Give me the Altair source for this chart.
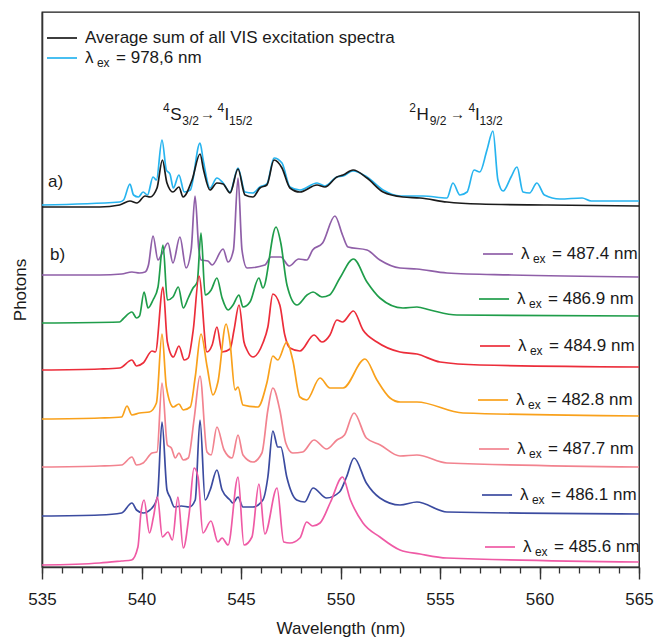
import altair as alt
import pandas as pd

FONT = "Liberation Sans"
INK = "#1a1a1a"

# ---------------- spectra (wavelength nm, photons arb. units, stacked) -------------
cyan_wl = [535.0, 538.9, 539.1, 539.42, 539.6, 539.85, 540.08, 540.3, 540.58, 540.75,
           541.03, 541.25, 541.43, 541.6, 541.88, 542.15, 542.45, 542.94, 543.1, 543.44,
           543.79, 544.1, 544.45, 544.85, 545.2, 545.6, 545.95, 546.3, 546.66, 547.06,
           547.46, 547.96, 548.82, 549.22, 549.82, 550.13, 550.63, 551.33, 552.14, 553.0,
           554.15, 555.35, 555.65, 556.0, 556.36, 556.71, 557.0, 557.36, 557.66, 557.91,
           558.17, 558.57, 558.87, 559.17, 559.5, 559.87, 560.25, 561.03, 562.14, 562.6, 565.0]
cyan_y = [362, 365, 367, 383, 372, 370, 375, 372, 390, 387,
          427, 397, 393, 379, 392, 375, 377, 424, 407, 379,
          389, 384, 375, 399, 375, 374, 380, 383, 409, 404,
          380, 377, 384, 381, 390, 391, 396, 390, 377, 371,
          371, 369, 384, 372, 375, 397, 395, 417, 436, 387,
          376, 390, 400, 375, 374, 384, 372, 368, 369, 366, 366]

avg_wl = [535.0, 537.9, 538.9, 539.42, 539.77, 540.18, 540.43, 540.78, 541.05, 541.28,
          541.58, 541.88, 542.09, 542.54, 542.94, 543.12, 543.44, 543.79, 544.10, 544.45,
          544.85, 545.20, 545.60, 545.95, 546.30, 546.66, 547.06, 547.46, 547.96, 548.82,
          549.22, 549.82, 550.13, 550.63, 551.33, 552.14, 553.14, 554.0, 555.35, 557.0,
          560.4, 565.0]
avg_y = [360, 360, 362, 366, 364, 371, 370, 379, 407, 384,
         375, 380, 370, 387, 413, 397, 377, 384, 383, 374,
         398, 372, 370, 379, 382, 407, 399, 379, 375, 382,
         380, 390, 392, 397, 389, 375, 370, 369, 365, 363,
         362, 361]

purple_wl = [535.0, 537.9, 539.0, 539.52, 539.9, 540.18, 540.35, 540.58, 540.83, 541.0,
             541.33, 541.58, 541.93, 542.24, 542.5, 542.69, 542.88, 543.0, 543.34, 543.55,
             544.1, 544.35, 544.62, 544.85, 545.05, 545.3, 546.2, 546.5, 547.0, 547.42,
             547.9, 548.3, 548.6, 549.1, 549.72, 550.1, 550.38, 551.33, 551.98, 552.99,
             553.84, 555.35, 558.6, 565.0]
purple_y = [292, 292, 293, 295, 294, 295, 302, 331, 307, 312,
            324, 304, 330, 299, 318, 371, 318, 307, 306, 302,
            318, 305, 317, 389, 317, 299, 302, 310, 310, 301,
            308, 307, 317, 324, 351, 332, 320, 317, 307, 299,
            298, 294, 292, 290]

green_wl = [535.0, 538.9, 539.07, 539.52, 539.75, 539.9, 540.13, 540.33, 540.58, 540.83,
            541.08, 541.3, 541.58, 541.85, 542.1, 542.35, 542.59, 542.8, 542.99, 543.2,
            543.5, 543.79, 544.05, 544.35, 544.6, 544.9, 545.1, 545.45, 545.9, 546.1,
            546.76, 547.0, 547.31, 547.81, 548.32, 548.62, 549.07, 549.45, 549.97, 550.65,
            551.33, 551.98, 553.14, 553.84, 554.5, 555.85, 565.0]
green_y = [244, 245, 248, 255, 249, 251, 275, 259, 267, 280,
           322, 267, 270, 280, 259, 269, 279, 285, 334, 272,
           277, 289, 269, 257, 262, 272, 260, 265, 289, 279,
           340, 324, 282, 262, 272, 275, 270, 272, 289, 308,
           285, 269, 259, 260, 257, 252, 251]

red_wl = [535.0, 537.9, 538.9, 539.52, 539.75, 540.08, 540.53, 540.7, 541.08, 541.3,
          541.6, 541.88, 542.15, 542.35, 542.6, 542.89, 543.29, 543.55, 543.79, 544.05,
          544.45, 544.65, 544.9, 545.15, 545.3, 545.6, 546.1, 546.35, 546.6, 546.95,
          547.2, 547.46, 547.96, 548.67, 549.07, 549.47, 549.82, 550.1, 550.65, 551.13,
          551.83, 552.99, 553.84, 555.0, 557.0, 565.0]
red_y = [197, 198, 199, 207, 201, 204, 216, 215, 280, 225,
         210, 221, 207, 209, 237, 291, 215, 222, 240, 215,
         218, 237, 262, 225, 217, 210, 224, 240, 273, 262,
         232, 219, 216, 232, 225, 232, 247, 245, 256, 237,
         225, 215, 213, 205, 202, 200]

orange_wl = [535.0, 537.9, 539.0, 539.27, 539.52, 539.9, 540.4, 540.75, 541.03, 541.25,
             541.6, 541.88, 542.1, 542.45, 542.7, 542.99, 543.3, 543.59, 543.84, 544.25,
             544.45, 544.7, 544.85, 545.1, 545.85, 546.31, 546.6, 546.85, 547.3, 547.6,
             547.96, 548.3, 548.97, 549.47, 550.13, 551.23, 551.83, 552.49, 553.0, 553.84,
             556.16, 565.0]
orange_y = [148, 149, 150, 161, 152, 154, 155, 164, 233, 180,
            160, 163, 157, 160, 190, 233, 200, 172, 185, 243,
            224, 177, 180, 162, 160, 185, 211, 207, 225, 207,
            170, 167, 189, 179, 179, 208, 187, 169, 165, 165,
            154, 151]

pink_wl = [535.0, 537.9, 539.0, 539.52, 539.75, 540.08, 540.53, 540.78, 541.03, 541.3,
           541.5, 541.7, 541.88, 542.1, 542.35, 542.65, 542.94, 543.29, 543.5, 543.79,
           544.15, 544.55, 544.85, 545.1, 545.6, 546.05, 546.35, 546.6, 546.95, 547.25,
           547.6, 548.1, 548.67, 549.3, 549.82, 550.2, 550.68, 551.3, 552.0, 552.99,
           553.84, 555.35, 565.0]
pink_y = [100, 101, 102, 110, 102, 104, 114, 115, 184, 122,
          119, 109, 114, 107, 109, 149, 191, 115, 112, 140,
          117, 109, 132, 112, 105, 114, 157, 179, 157, 124,
          114, 115, 127, 118, 127, 132, 154, 129, 122, 111,
          112, 104, 100]

blue_wl = [535.0, 537.9, 539.0, 539.52, 539.75, 540.08, 540.53, 540.8, 541.03, 541.28,
           541.43, 541.65, 542.0, 542.4, 542.7, 542.94, 543.2, 543.45, 543.79, 544.05,
           544.45, 544.6, 544.85, 545.1, 545.6, 546.1, 546.35, 546.6, 546.85, 547.0,
           547.3, 547.8, 548.2, 548.62, 549.3, 549.95, 550.3, 550.68, 551.3, 551.98,
           552.99, 553.84, 555.35, 565.0]
blue_y = [51, 52, 54, 64, 57, 54, 59, 70, 145, 77,
          70, 60, 61, 60, 67, 147, 67, 77, 97, 77,
          67, 64, 70, 60, 60, 67, 90, 136, 120, 120,
          90, 67, 65, 79, 69, 75, 90, 109, 84, 69,
          62, 65, 55, 53]

magenta_wl = [535.0, 537.9, 539.0, 539.5, 539.82, 539.97, 540.13, 540.4, 540.6, 540.8,
              541.05, 541.33, 541.55, 541.83, 542.1, 542.4, 542.64, 542.84, 543.09, 543.49,
              543.84, 544.05, 544.35, 544.85, 545.15, 545.55, 545.9, 546.2, 546.81, 547.15,
              547.46, 547.96, 548.3, 548.6, 548.97, 549.5, 550.1, 550.5, 551.13, 551.98,
              552.99, 554.0, 555.35, 565.0]
magenta_y = [2, 4, 6, 7, 20, 54, 67, 34, 50, 70,
             30, 35, 27, 70, 19, 54, 99, 90, 34, 46,
             25, 29, 22, 90, 22, 30, 83, 33, 79, 25,
             24, 29, 45, 41, 44, 65, 90, 67, 44, 30,
             17, 13, 9, 5]

series_names = ["978,6", "average", "487.4", "486.9", "484.9", "482.8", "487.7", "486.1", "485.6"]
series_colors = ["#27b4ef", "#1b1b1b", "#8f5fa8", "#1f9d4a", "#ec2d3a", "#f9a11b",
                 "#f2838f", "#3b4ba0", "#ef5aa5"]
series_data = [(cyan_wl, cyan_y), (avg_wl, avg_y), (purple_wl, purple_y),
               (green_wl, green_y), (red_wl, red_y), (orange_wl, orange_y),
               (pink_wl, pink_y), (blue_wl, blue_y), (magenta_wl, magenta_y)]

# right-hand legend rows (label value, row height, label start wavelength)
legend_values = ["487.4", "486.9", "484.9", "482.8", "487.7", "486.1", "485.6"]
legend_y = [313, 268, 221, 167, 118, 72, 20]
legend_x0 = [559.07, 558.87, 558.92, 558.82, 558.87, 559.02, 559.17]

# ---------------- build tables ----------------
rows = []
for name, (wl, ys) in zip(series_names, series_data):
    assert len(wl) == len(ys), name
    for w, v in zip(wl, ys):
        rows.append({"series": name, "wl": w, "photons": v})
spectra = pd.DataFrame(rows)

LINE_A, LINE_B, EX_DX, EQ_DX = -1.91, -0.40, 0.60, 1.56

leg_lines = []
texts = []
# top legend
top_x0 = 537.16
leg_lines.append({"series": "average", "x1": top_x0 + LINE_A, "x2": top_x0 + LINE_B, "photons": 529})
texts.append({"wl": top_x0, "photons": 529, "t": "Average sum of all VIS excitation spectra", "size": 17})
leg_lines.append({"series": "978,6", "x1": top_x0 + LINE_A, "x2": top_x0 + LINE_B, "photons": 509})
texts += [{"wl": top_x0, "photons": 509, "t": "λ", "size": 17},
          {"wl": top_x0 + EX_DX, "photons": 504, "t": "ex", "size": 12},
          {"wl": top_x0 + EQ_DX, "photons": 509, "t": "= 978,6 nm", "size": 17}]
for val, yy, x0 in zip(legend_values, legend_y, legend_x0):
    leg_lines.append({"series": val, "x1": x0 + LINE_A, "x2": x0 + LINE_B, "photons": yy})
    texts += [{"wl": x0, "photons": yy, "t": "λ", "size": 17},
              {"wl": x0 + EX_DX, "photons": yy - 5, "t": "ex", "size": 12},
              {"wl": x0 + EQ_DX, "photons": yy, "t": f"= {val} nm", "size": 17}]

# transitions and panel labels
texts += [
    {"wl": 541.08, "photons": 459, "t": "4", "size": 12},
    {"wl": 541.45, "photons": 452, "t": "S", "size": 17},
    {"wl": 542.05, "photons": 446, "t": "3/2", "size": 12},
    {"wl": 542.94, "photons": 453, "t": "→", "size": 15},
    {"wl": 543.82, "photons": 459, "t": "4", "size": 12},
    {"wl": 544.17, "photons": 452, "t": "I", "size": 17},
    {"wl": 544.40, "photons": 446, "t": "15/2", "size": 12},
    {"wl": 553.45, "photons": 459, "t": "2", "size": 12},
    {"wl": 553.82, "photons": 452, "t": "H", "size": 17},
    {"wl": 554.48, "photons": 446, "t": "9/2", "size": 12},
    {"wl": 555.50, "photons": 453, "t": "→", "size": 15},
    {"wl": 556.43, "photons": 459, "t": "4", "size": 12},
    {"wl": 556.76, "photons": 452, "t": "I", "size": 17},
    {"wl": 556.98, "photons": 446, "t": "13/2", "size": 12},
    {"wl": 535.30, "photons": 385, "t": "a)", "size": 17},
    {"wl": 535.40, "photons": 312, "t": "b)", "size": 17},
]
leg_df = pd.DataFrame(leg_lines)
text_df = pd.DataFrame(texts)

# ---------------- chart ----------------
xscale = alt.Scale(domain=[535, 565], nice=False, zero=False)
yscale = alt.Scale(domain=[0, 555], nice=False, zero=False)
cscale = alt.Scale(domain=series_names, range=series_colors)

x_axis = alt.Axis(values=[535, 540, 545, 550, 555, 560, 565], format="d", orient="bottom",
                  tickSize=12, tickWidth=1.4, tickColor="#333", domainColor="#333",
                  domainWidth=1.6, labelFont=FONT, labelFontSize=17, labelColor=INK,
                  labelPadding=12, labelFlush=False, titleFont=FONT, titleFontSize=17,
                  titleFontWeight="normal", titleColor=INK, titlePadding=13, grid=False)
y_axis = alt.Axis(ticks=False, labels=False, domainColor="#333", domainWidth=1.6,
                  titleFont=FONT, titleFontSize=17, titleFontWeight="normal",
                  titleColor=INK, titlePadding=13, grid=False)

X = alt.X("wl:Q", scale=xscale, axis=x_axis, title="Wavelength (nm)")
Y = alt.Y("photons:Q", scale=yscale, axis=y_axis, title="Photons")

lines = alt.Chart(spectra).mark_line(interpolate="monotone", strokeWidth=1.7).encode(
    x=X, y=Y,
    color=alt.Color("series:N", scale=cscale, legend=None),
)
legend_rules = alt.Chart(leg_df).mark_rule(strokeWidth=1.7).encode(
    x=alt.X("x1:Q", scale=xscale, axis=x_axis, title="Wavelength (nm)"),
    x2="x2:Q",
    y=Y,
    color=alt.Color("series:N", scale=cscale, legend=None),
)
labels = alt.Chart(text_df).mark_text(align="left", baseline="middle", font=FONT,
                                      color=INK).encode(
    x=X, y=Y, text="t:N", size=alt.Size("size:Q", scale=None),
)
main = alt.layer(lines, legend_rules, labels)

minor = alt.Chart(pd.DataFrame({"wl": [535, 565]})).mark_point(opacity=0).encode(
    x=alt.X("wl:Q", scale=xscale, title=None,
            axis=alt.Axis(values=list(range(535, 566)), orient="bottom", tickSize=6,
                          tickWidth=1.3, tickColor="#333", labels=False, domain=False,
                          grid=False))
)

chart = alt.layer(main, minor).resolve_axis(x="independent").properties(
    width=597, height=555,
    padding={"left": 42, "top": 12, "right": 15, "bottom": 73},
    autosize=alt.AutoSizeParams(type="none"),
    background="white",
).configure_view(stroke=INK, strokeWidth=1.3)

chart.save("out.html", embed_options={"renderer": "svg", "actions": False})
